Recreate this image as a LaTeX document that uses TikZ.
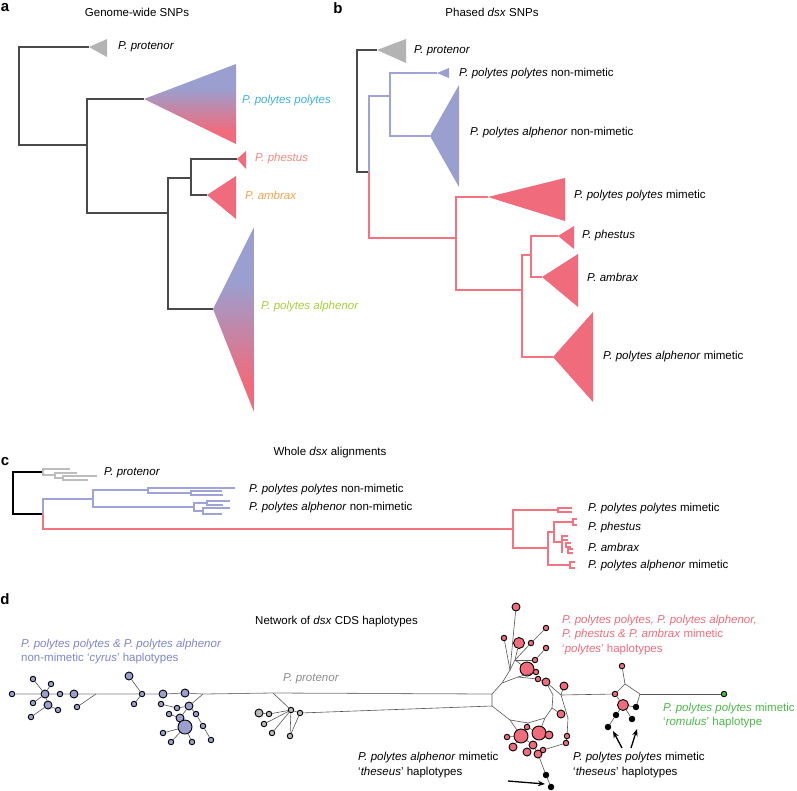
\documentclass[tikz,border=0pt]{standalone}
\usepackage{fontspec}
\setmainfont{Liberation Sans}
\usetikzlibrary{arrows.meta}

\definecolor{treegray}{HTML}{4A4A4A}
\definecolor{protgray}{HTML}{B3B3B3}
\definecolor{cladeblue}{HTML}{9A9FCF}
\definecolor{cladered}{HTML}{F06B7C}
\definecolor{lineblue}{HTML}{9EA3DA}
\definecolor{linered}{HTML}{F5737F}
\definecolor{cgray}{HTML}{BDBDBD}
\definecolor{ppblue}{HTML}{3DB0E6}
\definecolor{phsalmon}{HTML}{F7877F}
\definecolor{amborange}{HTML}{F9A24B}
\definecolor{alphgreen}{HTML}{A6CE39}
\definecolor{netblue}{HTML}{7D85C8}
\definecolor{netgreen}{HTML}{4CB848}
\definecolor{protlbl}{HTML}{8C8C8C}
\definecolor{netline}{HTML}{555555}

\pgfdeclareverticalshading{bluered}{100bp}{color(0bp)=(cladered); color(33bp)=(cladered);
  color(60bp)=(cladeblue); color(100bp)=(cladeblue)}

\newcommand\clade[5]{\fill[#5] (#1) -- (#2,#3) -- (#2,#4) -- cycle;}
\newcommand\gclade[4]{\shade[shading=bluered] (#1) -- (#2,#3) -- (#2,#4) -- cycle;}
\newcommand\comb[4]{\draw[cred] ({#1+#4},{#2-#3}) -| (#1,{#2+#3}) -- ({#1+#4},{#2+#3});}

\begin{document}
\begin{tikzpicture}[x=1pt, y=-1pt,
  lbl/.style={font=\fontsize{11.5}{14.3}\selectfont, anchor=west, inner sep=0pt, align=left},
  ttl/.style={font=\fontsize{11.5}{14}\selectfont, inner sep=0pt},
  pnl/.style={font=\fontsize{15}{15}\selectfont\bfseries, inner sep=0pt},
  tree/.style={line width=1.2pt, draw=treegray},
  btree/.style={line width=1.2pt, draw=lineblue},
  rtree/.style={line width=1.2pt, draw=linered},
  cgr/.style={line width=1.1pt, draw=cgray},
  cblue/.style={line width=1.1pt, draw=lineblue},
  cred/.style={line width=1.1pt, draw=linered},
  lnk/.style={draw=netline, line width=0.6pt},
  hap/.style={circle, draw=black, line width=0.9pt, inner sep=0pt, minimum size=5.5pt},
  hm/.style={hap, minimum size=8pt},
  hl/.style={hap, minimum size=11pt},
  hx/.style={hap, minimum size=14pt},
  arr/.style={-{Stealth[length=7pt,width=5.5pt]}, line width=1.3pt}
]
\useasboundingbox (0,0) rectangle (797,790);

% a
\node[pnl] (la) at (5,8) {a};
\node[ttl] (ta) at (137,12) {Genome-wide SNPs};
\draw[tree] (89,47) -| (19,145) -- (87,145);
\draw[tree] (144,99) -| (87,213) -- (168,213);
\draw[tree] (191,178) -| (168,309) -- (213,309);
\draw[tree] (237,159) -| (191,195) -- (207,195);
\clade{89,47}{107}{39}{57}{protgray}
\gclade{144,99}{236}{64}{144}
\clade{237,159}{246}{151}{169}{cladered}
\clade{207,195}{236}{176}{219}{cladered}
\gclade{213,309}{254}{227}{412}
\node[lbl] (aPro) at (118,47) {\textit{P. protenor}};
\node[lbl, text=ppblue] (aPP) at (242,101) {\textit{P. polytes polytes}};
\node[lbl, text=phsalmon] (aPh) at (255,159) {\textit{P. phestus}};
\node[lbl, text=amborange] (aAm) at (245,195) {\textit{P. ambrax}};
\node[lbl, text=alphgreen] (aPA) at (261,307) {\textit{P. polytes alphenor}};

% b
\node[pnl] (lb) at (338,8) {b};
\node[ttl] (tb) at (492,12) {Phased \textit{dsx} SNPs};
\draw[tree] (377,50) -| (357,172) -- (369,172);
\draw[btree] (369,172) |- (390,96);
\draw[btree] (437,73) -| (390,136) -- (430,136);
\draw[rtree] (369,172) |- (456,238);
\draw[rtree] (488,197) -| (456,290) -- (522,290);
\draw[rtree] (531,255) -| (522,357) -- (553,357);
\draw[rtree] (558,236) -| (531,277) -- (542,277);
\clade{377,50}{406}{39}{63}{protgray}
\clade{437,73}{449}{68}{78}{cladeblue}
\clade{430,136}{459}{85}{187}{cladeblue}
\clade{488,197}{565}{178}{221}{cladered}
\clade{558,236}{574}{226}{249}{cladered}
\clade{542,277}{578}{254}{307}{cladered}
\clade{553,357}{593}{312}{402}{cladered}
\node[lbl] (bPro) at (414,51) {\textit{P. protenor}};
\node[lbl] (bPPn) at (459,74) {\textit{P. polytes polytes} non-mimetic};
\node[lbl] (bPAn) at (470,133) {\textit{P. polytes alphenor} non-mimetic};
\node[lbl] (bPPm) at (574,196) {\textit{P. polytes polytes} mimetic};
\node[lbl] (bPh) at (582,236) {\textit{P. phestus}};
\node[lbl] (bAm) at (587,277) {\textit{P. ambrax}};
\node[lbl] (bPAm) at (603,357) {\textit{P. polytes alphenor} mimetic};

% c
\node[pnl] (lc) at (5,462) {c};
\node[ttl] (tc) at (330,453) {Whole \textit{dsx} alignments};
\draw[line width=1.2pt] (43,472) -| (13,514) -- (43,514);
\draw[cgr] (70,469) -| (43,475) -- (55,475);
\draw[cgr] (77,473) -| (55,478) -- (63,478);
\draw[cgr] (97,476) -| (63,480) -- (88,480);
\draw[cblue] (43,514) |- (93,499);
\draw[cblue] (148,490) -| (93,507) -- (194,507);
\draw[cblue] (235,488) -| (148,493) -- (191,493);
\draw[cblue] (222,491) -| (191,495) -- (223,495);
\draw[cblue] (207,503) -| (194,511) -- (203,511);
\draw[cblue] (230,501) -| (207,505) -- (223,505);
\draw[cblue] (230,508) -| (203,514) -- (222,514);
\draw[cred] (43,514) |- (513,529);
\draw[cred] (558,510) -| (513,548) -- (548,548);
\draw[cred] (554,532) -| (548,565) -- (570,565);
\draw[cred] (573,522) -| (554,542) -- (562,542);
\draw[cred] (562,537) -- (562,553);
\comb{558}{510}{2}{14}
\comb{573}{522}{3}{4}
\comb{562}{538}{2}{6}
\comb{566}{545}{2}{5}
\comb{568}{551}{2}{5}
\comb{570}{565}{3}{5}
\node[lbl] (cPro) at (104,473) {\textit{P. protenor}};
\node[lbl] (cPPn) at (249,490) {\textit{P. polytes polytes} non-mimetic};
\node[lbl] (cPAn) at (249,508) {\textit{P. polytes alphenor} non-mimetic};
\node[lbl] (cPPm) at (588,509) {\textit{P. polytes polytes} mimetic};
\node[lbl] (cPh) at (588,528) {\textit{P. phestus}};
\node[lbl] (cAm) at (588,547) {\textit{P. ambrax}};
\node[lbl] (cPAm) at (588,566) {\textit{P. polytes alphenor} mimetic};

% d
\node[pnl] (ld) at (5,599) {d};
\node[lbl] (td) at (255,622) {Network of \textit{dsx} CDS haplotypes};
\foreach \n/\x/\y/\s in {b1/12/694/hap, b2/45/694/hm, b3/33/679/hap, b4/51/684/hap, b5/60/694/hap,
  b6/74/694/hm, b7/33/703/hap, b8/48/705/hm, b9/58/710/hap, b10/31/717/hap, b11/77/707/hap,
  b12/129/676/hm, b13/142/694/hap, b14/134/704/hap, b15/163/694/hm, b16/185/693/hm, b17/189/706/hm,
  b18/161/704/hap, b19/177/708/hap, b20/169/714/hap, b21/180/718/hm, b22/196/714/hap, b23/203/726/hap,
  b24/211/740/hap, b25/185/727/hx, b26/163/733/hap, b27/171/742/hap, b28/192/742/hap}
  \node[\s, fill=cladeblue] (\n) at (\x,\y) {};
\foreach \n/\x/\y/\s in {p0/259/713/hm, p1/291/710/hap, p2/269/714/hap, p3/264/724/hap,
  p4/272/733/hap, p5/290/736/hap, p6/300/713/hap}
  \node[\s, fill=gray!55] (\n) at (\x,\y) {};
\foreach \n/\x/\y/\s in {e1/516/607/hm, e2/504/638/hap, e3/519/643/hl, e4/531/643/hap, e5/546/628/hap,
  e6/546/648/hap, e7/535/660/hap, e8/527/669/hx, e9/536/672/hap, e10/538/679/hap, e11/546/682/hm,
  e12/564/686/hm, f1/561/714/hm, f2/527/727/hap, f3/507/737/hap, f4/521/736/hx, f5/539/733/hx,
  f6/549/735/hm, f7/567/736/hap, f8/566/743/hap, f9/513/747/hm, f10/533/745/hm, f11/527/752/hm,
  f12/538/754/hm, f13/543/750/hap, c0/622/666/hap, c1/615/694/hap, c3/623/705/hl}
  \node[\s, fill=cladered] (\n) at (\x,\y) {};
\foreach \n/\x/\y in {k1/546/775, k2/551/787, c4/636/707, c5/616/715, c6/608/727, c7/632/719}
  \node[hap, fill=black] (\n) at (\x,\y) {};
\node[hap, fill=netgreen] (g1) at (724,694) {};
\foreach \n/\x/\y in {bj1/96/694, bj2/203/694, pj/273/693, rA/492/694, rB/502/683, rC/518/677,
  rF/553/695, rG/552/708, rH/545/718, rI/528/723, rJ/510/720, rK/492/706, t1/510/670, t2/515/660,
  rr1/561/695, rr2/568/718, cj/625/684, cr/640/694, at1/622/748, ah1/613/731, at2/631/748,
  ah2/637/729, at3/508/781, ah3/545/784}
  \coordinate (\n) at (\x,\y);
\draw[lnk, draw=gray, line width=0.8pt] (b1) -- (b2) -- (b5) -- (b6) -- (bj1) -- (b13) -- (b15)
  -- (b16) -- (bj2) -- (pj) -- (rA);
\foreach \a/\b in {b2/b3, b2/b4, b2/b7, b2/b8, b8/b9, b8/b10, bj1/b11, b12/b13, b13/b14, bj2/b17,
  b18/b19, b19/b17, b20/b21, b21/b17, b17/b22, b22/b23, b23/b24, b21/b25, b25/b27, b25/b28, b26/b25,
  pj/p1, p0/p2, p2/p1, p3/p1, p4/p1, p1/p6, p1/p5, p6/p5, p6/rK,
  rB/t1, t1/t2, t1/e1, t1/e2, t2/e3, t2/e4, e4/e5, t2/e7, e7/e6, t2/e8, e8/e9, rC/e9,
  e11/rr1, rr1/e12, rr1/rr2, rr2/f7, f7/f8, rG/f1, rH/f5, rI/f2, f2/f5, rJ/f4, f3/f4, f4/f9,
  f4/f10, f10/f11, f10/f12, f12/f13, f13/f8, f5/f6, f12/k1, k1/k2,
  rr1/c1, c0/cj, cj/c1, cj/cr, cr/c4, c4/c3, c3/c1, c3/c5, c5/c6, c3/c7, cr/g1}
  \draw[lnk] (\a) -- (\b);
\draw[lnk] (rA) -- (rB) -- (rC) -- (e10) -- (e11) -- (rF) -- (rG) -- (rH) -- (rI) -- (rJ) -- (rK) -- (rA);
\draw[arr] (at1) -- (ah1);
\draw[arr] (at2) -- (ah2);
\draw[arr] (at3) -- (ah3);
\node[lbl, text=netblue] (dBlue) at (21,651.5) {\textit{P. polytes polytes \& P. polytes alphenor}\\non-mimetic ‘\textit{cyrus}’ haplotypes};
\node[lbl, text=protlbl] (dPro) at (283,679) {\textit{P. protenor}};
\node[lbl, text=cladered] (dPink) at (562,635) {\textit{P. polytes polytes, P. polytes alphenor,}\\\textit{P. phestus \& P. ambrax} mimetic\\‘\textit{polytes}’ haplotypes};
\node[lbl, text=netgreen] (dGreen) at (663,715.5) {\textit{P. polytes polytes} mimetic\\‘\textit{romulus}’ haplotype};
\node[lbl] (dThP) at (573,765) {\textit{P. polytes polytes} mimetic\\‘\textit{theseus}’ haplotypes};
\node[lbl] (dThA) at (358,765) {\textit{P. polytes alphenor} mimetic\\‘\textit{theseus}’ haplotypes};
\end{tikzpicture}
\end{document}
